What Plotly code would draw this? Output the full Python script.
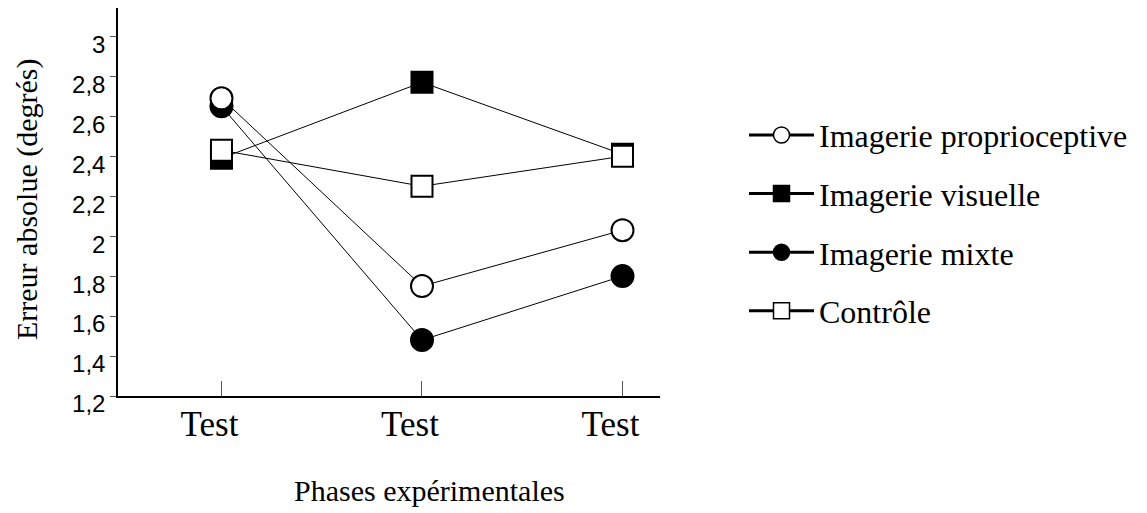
import plotly.graph_objects as go

phases = ["Test", "Test", "Test"]
x_pos = [0, 1, 2]
series_names = ["Imagerie proprioceptive", "Imagerie visuelle", "Imagerie mixte", "Contrôle"]
proprio = [2.69, 1.75, 2.03]
visuelle = [2.39, 2.77, 2.41]
mixte = [2.65, 1.48, 1.80]
controle = [2.43, 2.25, 2.40]
y_tickvals = [1.2, 1.4, 1.6, 1.8, 2.0, 2.2, 2.4, 2.6, 2.8, 3.0]
y_ticktext = ["1,2", "1,4", "1,6", "1,8", "2", "2,2", "2,4", "2,6", "2,8", "3"]

styles = [
    ("circle", "white", 22),
    ("square", "black", 21),
    ("circle", "black", 22),
    ("square", "white", 21),
]
values = [proprio, visuelle, mixte, controle]
order = [1, 3, 2, 0]

W, H = 1139, 505
L, T, R, B = 110, 0, 487, 117
PW, PH = W - L - R, H - T - B

fig = go.Figure()
for i in order:
    sym, fill, sz = styles[i]
    fig.add_trace(go.Scatter(
        x=x_pos, y=values[i], mode="lines+markers", name=series_names[i],
        showlegend=False,
        line=dict(color="black", width=1),
        marker=dict(symbol=sym, size=sz, color=fill, line=dict(color="black", width=2)),
    ))
for i in range(4):
    sym, fill, sz = styles[i]
    fig.add_trace(go.Scatter(
        x=[None], y=[None], mode="lines+markers", name=series_names[i],
        legendgroup="g%d" % i,
        line=dict(color="black", width=3),
        marker=dict(symbol=sym, size=16, color=fill, line=dict(color="black", width=1.5)),
    ))

serif = "Liberation Serif, Times New Roman, serif"
sans = "Liberation Sans, Arial, sans-serif"

fig.update_layout(
    width=W, height=H,
    margin=dict(l=L, r=R, t=T, b=B, autoexpand=False),
    paper_bgcolor="white", plot_bgcolor="white",
    showlegend=True,
    legend=dict(
        xref="container", yref="container",
        x=736 / W, y=1 - 99.7 / H, xanchor="left", yanchor="top",
        font=dict(family=serif, size=32, color="black"),
        tracegroupgap=14, traceorder="grouped",
        itemwidth=65, bgcolor="rgba(0,0,0,0)",
    ),
    xaxis=dict(
        range=[-0.516, 2.187], tickvals=x_pos, ticktext=phases,
        showline=True, linecolor="black", linewidth=1.5,
        ticks="inside", ticklen=15, tickcolor="#555", tickwidth=1,
        tickfont=dict(family=serif, size=35, color="black"),
        ticklabelshift=-12, ticklabelstandoff=-4,
        showgrid=False, zeroline=False, automargin=False,
    ),
    yaxis=dict(
        range=[1.2, 3.142], tickvals=y_tickvals, ticktext=y_ticktext,
        showline=True, linecolor="black", linewidth=1.5,
        ticks="outside", ticklen=6, tickcolor="#555", tickwidth=1,
        tickfont=dict(family=sans, size=24, color="black"),
        ticklabelshift=8,
        showgrid=False, zeroline=False, automargin=False,
    ),
    annotations=[
        dict(text="Erreur absolue (degrés)", textangle=-90,
             xref="paper", yref="paper", x=(19 - L) / PW, y=(388 - 191) / PH,
             xanchor="center", yanchor="middle", showarrow=False,
             font=dict(family=serif, size=30, color="black")),
        dict(text="Phases expérimentales",
             xref="paper", yref="paper", x=(421 - L) / PW, y=(388 - 482) / PH,
             xanchor="center", yanchor="middle", showarrow=False,
             font=dict(family=serif, size=30, color="black")),
    ],
)

fig.write_html("out.html")
